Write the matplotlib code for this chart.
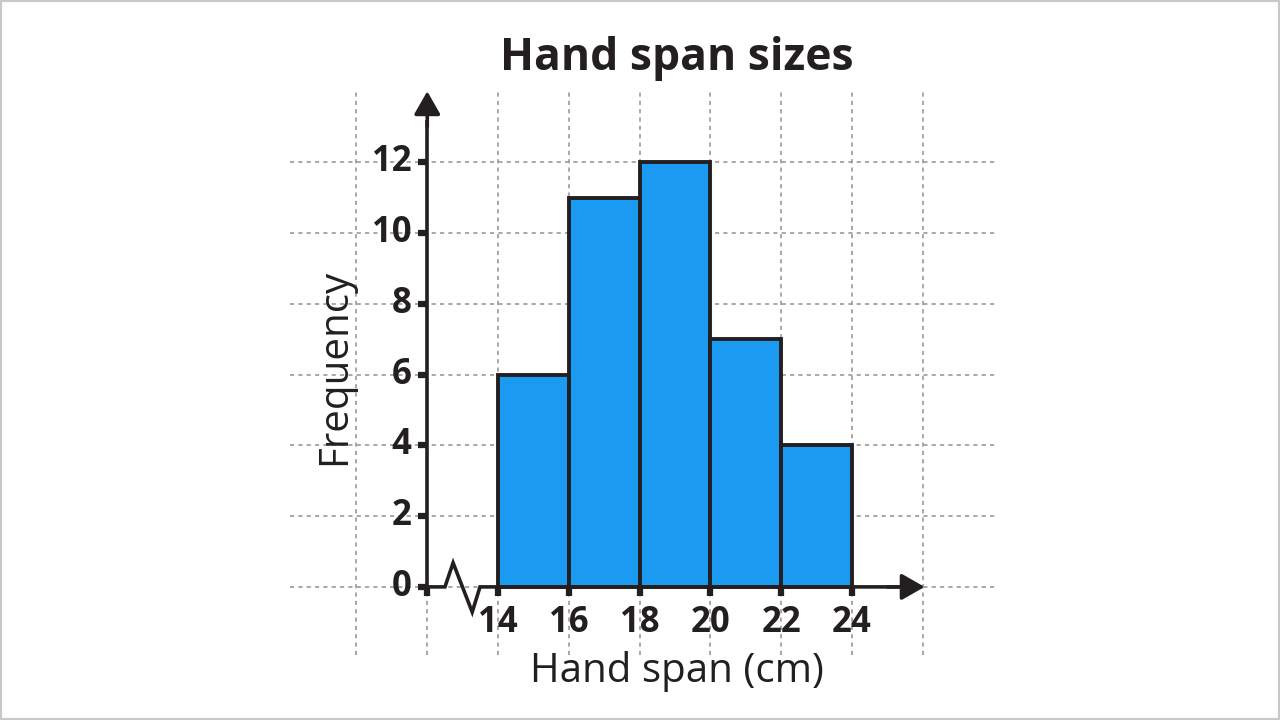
import matplotlib.pyplot as plt
from matplotlib.patches import Rectangle

plt.rcParams['font.family'] = ['Open Sans', 'DejaVu Sans']

bin_edges = [14, 16, 18, 20, 22, 24]
frequencies = [6, 11, 12, 7, 4]
x_ticks = [14, 16, 18, 20, 22, 24]
y_ticks = [0, 2, 4, 6, 8, 10, 12]
grid_x = [10, 12, 14, 16, 18, 20, 22, 24, 26]
grid_y = [0, 2, 4, 6, 8, 10, 12]

dark = '#231f20'
blue = '#1a9af0'

fig = plt.figure(figsize=(12.8, 7.2), dpi=100)
ax = fig.add_axes([0, 0, 1, 1])
ax.set_xlim(-0.07, 36.09)
ax.set_ylim(-3.76, 16.58)
ax.axis('off')

# frame
fig.patches.append(Rectangle((0, 0), 1, 1, transform=fig.transFigure,
                             fill=False, edgecolor='#c8c8c4', linewidth=3))

# dotted grid
for gx in grid_x:
    ax.plot([gx, gx], [-1.92, 14.04], color='#9a9a9a', lw=1.2,
            ls=(0, (2.5, 2.5)), zorder=1)
for gy in grid_y:
    ax.plot([8.12, 28.04], [gy, gy], color='#9a9a9a', lw=1.2,
            ls=(0, (2.5, 2.5)), zorder=1)

# bars
widths = [b - a for a, b in zip(bin_edges[:-1], bin_edges[1:])]
ax.bar(bin_edges[:-1], frequencies, width=widths, align='edge',
       color=blue, edgecolor=dark, linewidth=2.8, zorder=3)

# axes with arrows
arrow = dict(arrowstyle='-|>,head_length=1.4,head_width=0.8',
             color=dark, lw=2.6, shrinkA=0, shrinkB=0)
ax.plot([12, 12], [0, 13.2], color=dark, lw=2.6, zorder=4, solid_capstyle='butt')
ax.annotate('', xy=(12, 14.0), xytext=(12, 13.0), arrowprops=arrow, zorder=5)
ax.plot([12, 12.5, 12.73, 13.27, 13.49, 25.3],
        [0, 0, 0.68, -0.71, 0, 0], color=dark, lw=2.6, zorder=4,
        solid_joinstyle='miter')
ax.annotate('', xy=(26.05, 0), xytext=(25.0, 0), arrowprops=arrow, zorder=5)

# ticks
for yt in y_ticks:
    ax.plot([11.75, 12], [yt, yt], color=dark, lw=4.5, zorder=4, solid_capstyle='butt')
    ax.text(11.55, yt, str(yt), ha='right', va='center', fontsize=25,
            fontweight='bold', color=dark)
for xt in [12] + x_ticks:
    ax.plot([xt, xt], [0, -0.27], color=dark, lw=4.5, zorder=4, solid_capstyle='butt')
for xt in x_ticks:
    ax.text(xt, -0.5, str(xt), ha='center', va='top', fontsize=25,
            fontweight='bold', color=dark)

ax.text(19.05, 14.93, 'Hand span sizes', ha='center', va='center',
        fontsize=32, fontweight='bold', color=dark)
ax.text(19.05, -2.38, 'Hand span (cm)', ha='center', va='center',
        fontsize=29, color=dark)
ax.text(9.4, 6.2, 'Frequency', ha='center', va='center', rotation=90,
        fontsize=29, color=dark)

fig.savefig('out.png', dpi=100, facecolor='white')
